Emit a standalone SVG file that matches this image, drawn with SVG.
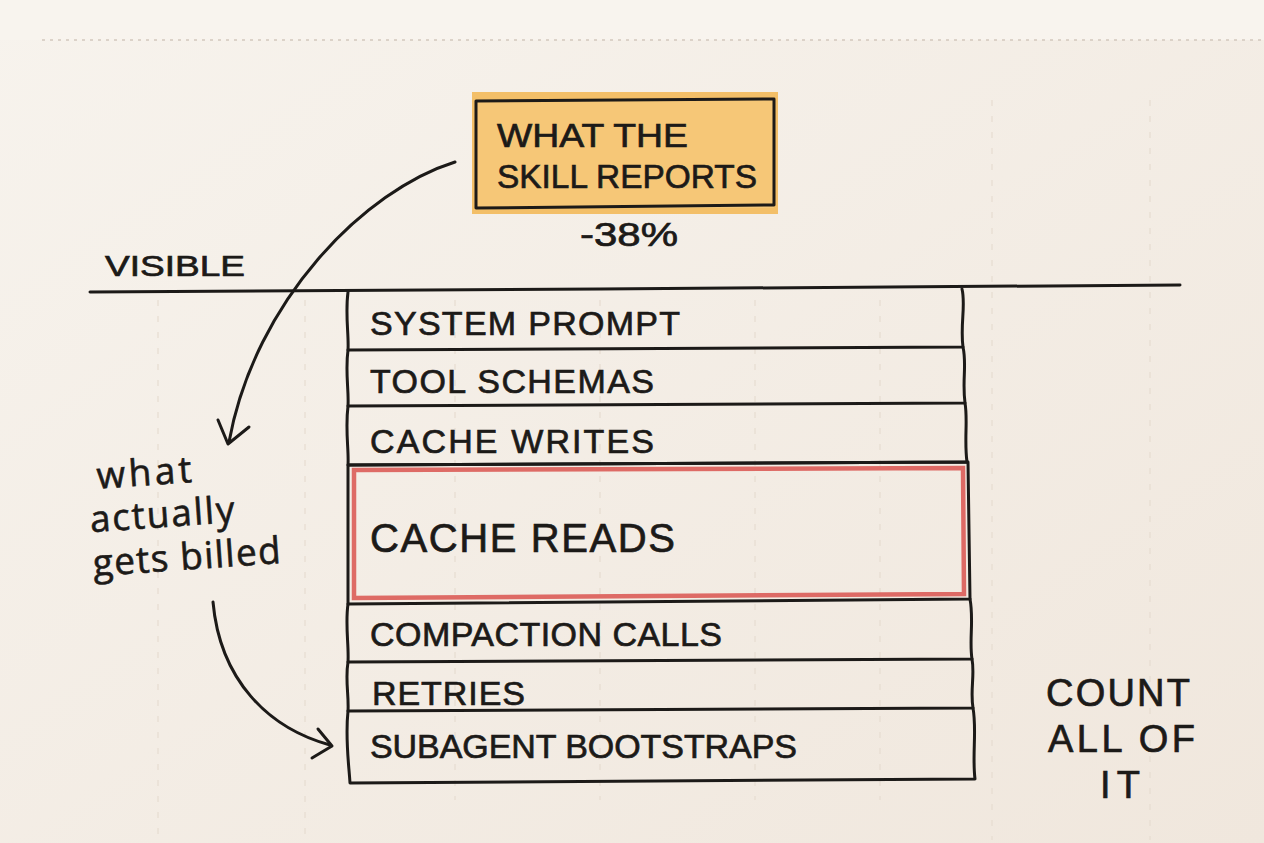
<svg xmlns="http://www.w3.org/2000/svg" width="1264" height="843" viewBox="0 0 1264 843">
<defs>
<linearGradient id="bg" x1="0" y1="0" x2="1" y2="1">
<stop offset="0" stop-color="#f7f3ed"/>
<stop offset="1" stop-color="#f0e7dd"/>
</linearGradient>
<style>
.cap{font-family:"Liberation Sans",Arial,sans-serif;fill:#1c1a18;stroke:#1c1a18;stroke-width:0.7}
.hand{font-family:"Open Sans","Liberation Sans",sans-serif;fill:#1c1a18;stroke:#1c1a18;stroke-width:0.6}
.ink{fill:none;stroke:#1c1a18;stroke-width:3;stroke-linecap:round;stroke-linejoin:round}
.grid{stroke:#e6ddd1;stroke-width:1.2;stroke-dasharray:6 10}
</style>
</defs>
<rect x="0" y="0" width="1264" height="843" fill="url(#bg)"/>
<rect x="0" y="0" width="1264" height="40" fill="#f8f4ee"/>
<line x1="42" y1="40" x2="1264" y2="40" stroke="#d2c8bd" stroke-width="1.5" stroke-dasharray="3 5"/>
<g id="grid">
<line class="grid" x1="158" y1="300" x2="158" y2="840"/>
<line class="grid" x1="305" y1="300" x2="305" y2="840"/>
<line class="grid" x1="455" y1="300" x2="455" y2="800"/>
<line class="grid" x1="600" y1="300" x2="600" y2="800"/>
<line class="grid" x1="755" y1="300" x2="755" y2="800"/>
<line class="grid" x1="880" y1="300" x2="880" y2="800"/>
<line class="grid" x1="992" y1="100" x2="992" y2="840"/>
<line class="grid" x1="1150" y1="100" x2="1150" y2="840"/>
</g>
<g id="skill-reports">
<rect x="472" y="92" width="306" height="122" fill="#f3b95a" opacity="0.9"/>
<rect x="476" y="100" width="298" height="108" fill="#f6c777"/>
<path class="ink" d="M476 101 L774 99 L774 205 L476 208 Z" stroke-width="3.5"/>
<text class="cap" x="497" y="147" font-size="34" textLength="191" lengthAdjust="spacingAndGlyphs">WHAT THE</text>
<text class="cap" x="497" y="188" font-size="34" textLength="260" lengthAdjust="spacingAndGlyphs">SKILL REPORTS</text>
</g>
<g id="pct">
<text class="cap" x="580" y="246" font-size="34" textLength="98" lengthAdjust="spacingAndGlyphs">-38%</text>
</g>
<g id="visible">
<text class="cap" x="105" y="276" font-size="30" textLength="140" lengthAdjust="spacingAndGlyphs">VISIBLE</text>
<path class="ink" d="M90 292 L600 289 L1180 285"/>
</g>
<g id="system-prompt">
<path class="ink" d="M348 292 C345 315 349 335 348 350 L963 347 C960 325 966 305 962 289"/>
<text class="cap" x="370" y="335" font-size="34" textLength="310" lengthAdjust="spacing">SYSTEM PROMPT</text>
</g>
<g id="tool-schemas">
<path class="ink" d="M348 350 C345 372 349 390 348 406 L965 403 C962 380 967 365 963 347"/>
<text class="cap" x="370" y="393" font-size="34" textLength="284" lengthAdjust="spacing">TOOL SCHEMAS</text>
</g>
<g id="cache-writes">
<path class="ink" d="M348 406 C345 430 349 450 348 465 L967 462 C964 440 968 420 965 403"/>
<text class="cap" x="370" y="453" font-size="34" textLength="284" lengthAdjust="spacing">CACHE WRITES</text>
</g>
<g id="cache-reads">
<path class="ink" d="M348 465 L348 604 L970 599 L968 462 Z"/>
<path d="M354 470 L354 598 L964 594 L963 468 Z" fill="none" stroke="#d9534f" stroke-width="4.5" opacity="0.85"/>
<text class="cap" x="370" y="552" font-size="40" textLength="305" lengthAdjust="spacing">CACHE READS</text>
</g>
<g id="compaction-calls">
<path class="ink" d="M348 604 C345 625 349 645 348 662 L972 659 C969 640 974 620 970 599"/>
<text class="cap" x="370" y="646" font-size="34" textLength="352" lengthAdjust="spacing">COMPACTION CALLS</text>
</g>
<g id="retries">
<path class="ink" d="M348 662 C345 680 349 695 348 711 L973 708 C970 690 975 675 972 659"/>
<text class="cap" x="372" y="705" font-size="34" textLength="153" lengthAdjust="spacing">RETRIES</text>
</g>
<g id="subagent-bootstraps">
<path class="ink" d="M348 711 C345 740 349 765 350 783 L975 779 C972 755 977 730 973 708"/>
<text class="cap" x="370" y="758" font-size="34" textLength="427" lengthAdjust="spacing">SUBAGENT BOOTSTRAPS</text>
</g>
<g id="billed-label" transform="rotate(-4 180 520)">
<text class="hand" x="100" y="483" font-size="37" textLength="95" lengthAdjust="spacing">what</text>
<text class="hand" x="90" y="526" font-size="37" textLength="145" lengthAdjust="spacing">actually</text>
<text class="hand" x="90" y="570" font-size="37" textLength="188" lengthAdjust="spacing">gets billed</text>
</g>
<g id="count-label">
<text class="cap" x="1046" y="706" font-size="38" textLength="144" lengthAdjust="spacing">COUNT</text>
<text class="cap" x="1048" y="752" font-size="38" textLength="147" lengthAdjust="spacing">ALL OF</text>
<text class="cap" x="1100" y="798" font-size="38" textLength="40" lengthAdjust="spacing">IT</text>
</g>
<g id="connectors">
<path class="ink" d="M455 162 C365 190 255 300 229 442"/>
<polyline class="ink" points="218,420 228,444 249,427"/>
<path class="ink" d="M213 602 C220 680 268 728 330 745"/>
<polyline class="ink" points="318,729 332,746 312,758"/>
</g>
</svg>
